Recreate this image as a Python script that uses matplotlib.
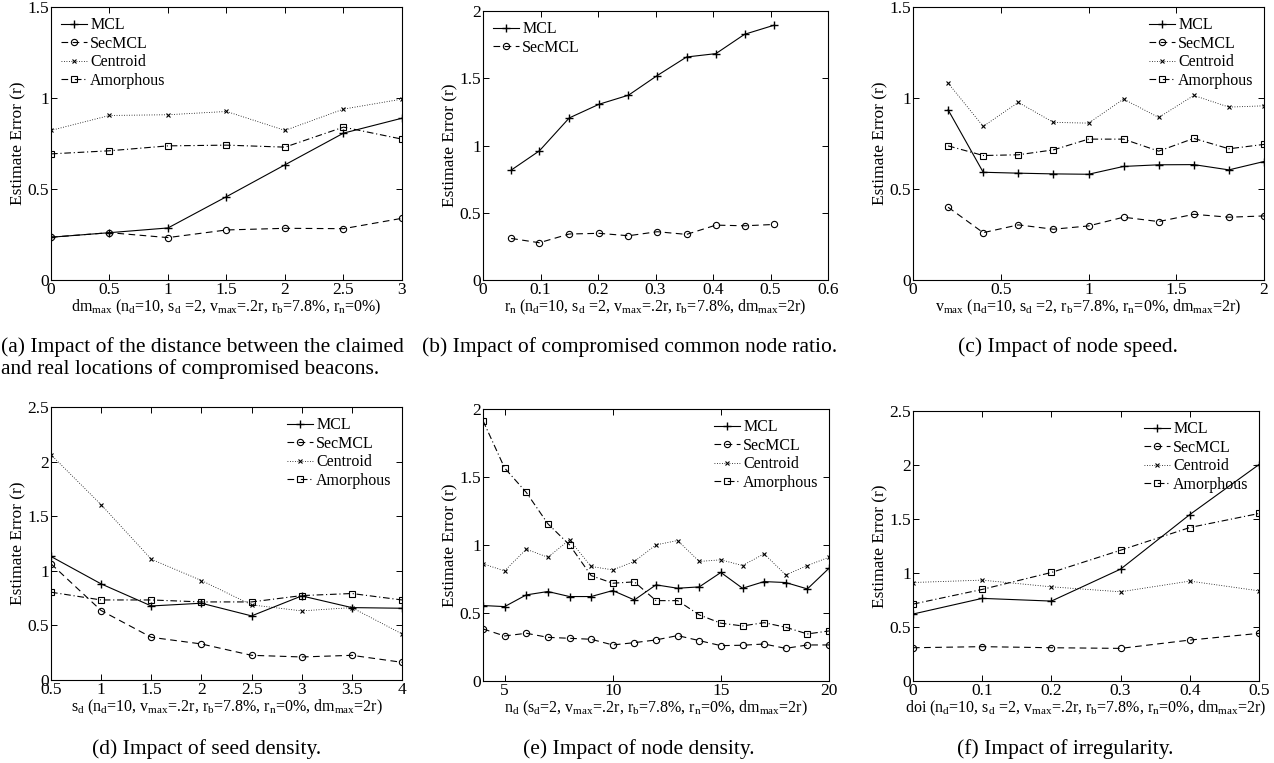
import numpy as np
import matplotlib
matplotlib.use('Agg')
import matplotlib.pyplot as plt
from matplotlib.ticker import FuncFormatter

plt.rcParams['font.family'] = ['Liberation Serif', 'DejaVu Serif']
plt.rcParams['mathtext.fontset'] = 'custom'
plt.rcParams['mathtext.rm'] = 'Liberation Serif'
plt.rcParams['mathtext.default'] = 'regular'

# (a) dm_max
dm_x = [0, 0.5, 1, 1.5, 2, 2.5, 3]
dm_mcl = [0.235, 0.26, 0.286, 0.458, 0.633, 0.807, 0.889]
dm_sec = [0.235, 0.26, 0.233, 0.275, 0.284, 0.282, 0.339]
dm_cen = [0.822, 0.904, 0.908, 0.926, 0.822, 0.939, 0.994]
dm_amo = [0.693, 0.71, 0.737, 0.741, 0.73, 0.84, 0.774]

# (b) r_n
rn_x = [0.049, 0.098, 0.150, 0.202, 0.253, 0.303, 0.354, 0.405, 0.455, 0.506]
rn_mcl = [0.817, 0.960, 1.205, 1.307, 1.374, 1.520, 1.658, 1.683, 1.827, 1.894]
rn_sec = [0.309, 0.277, 0.342, 0.347, 0.329, 0.359, 0.339, 0.408, 0.403, 0.413]

# (c) v_max
v_x = [0.2, 0.4, 0.6, 0.8, 1.0, 1.2, 1.4, 1.6, 1.8, 2.0]
v_mcl = [0.935, 0.592, 0.587, 0.583, 0.581, 0.624, 0.633, 0.634, 0.605, 0.651]
v_sec = [0.400, 0.260, 0.303, 0.279, 0.297, 0.345, 0.321, 0.361, 0.345, 0.352]
v_cen = [1.082, 0.844, 0.976, 0.866, 0.862, 0.994, 0.893, 1.014, 0.950, 0.957]
v_amo = [0.737, 0.684, 0.688, 0.715, 0.774, 0.774, 0.708, 0.778, 0.721, 0.745]

# (d) s_d
sd_x = [0.5, 1, 1.5, 2, 2.5, 3, 3.5, 4]
sd_mcl = [1.131, 0.880, 0.678, 0.703, 0.587, 0.770, 0.663, 0.657]
sd_sec = [1.064, 0.636, 0.391, 0.330, 0.226, 0.211, 0.226, 0.162]
sd_cen = [2.063, 1.605, 1.106, 0.911, 0.688, 0.633, 0.663, 0.422]
sd_amo = [0.804, 0.733, 0.733, 0.715, 0.715, 0.773, 0.792, 0.733]

# (e) n_d
nd_x = [4, 5, 6, 7, 8, 9, 10, 11, 12, 13, 14, 15, 16, 17, 18, 19, 20]
nd_mcl = [0.555, 0.547, 0.633, 0.658, 0.621, 0.621, 0.665, 0.596, 0.707, 0.682,
          0.692, 0.798, 0.682, 0.731, 0.724, 0.677, 0.829]
nd_sec = [0.383, 0.331, 0.351, 0.321, 0.314, 0.307, 0.265, 0.282, 0.302, 0.334,
          0.297, 0.260, 0.263, 0.272, 0.240, 0.265, 0.265]
nd_cen = [0.861, 0.810, 0.969, 0.910, 1.038, 0.842, 0.817, 0.879, 1.001, 1.033,
          0.879, 0.891, 0.849, 0.935, 0.780, 0.849, 0.910]
nd_amo = [1.914, 1.566, 1.387, 1.156, 1.001, 0.775, 0.719, 0.729, 0.591, 0.591,
          0.486, 0.425, 0.405, 0.429, 0.395, 0.346, 0.368]

# (f) doi
doi_x = [0, 0.1, 0.2, 0.3, 0.4, 0.5]
doi_mcl = [0.620, 0.765, 0.740, 1.036, 1.541, 2.004]
doi_sec = [0.308, 0.318, 0.308, 0.302, 0.379, 0.441]
doi_cen = [0.912, 0.934, 0.872, 0.826, 0.925, 0.835]
doi_amo = [0.712, 0.848, 1.005, 1.211, 1.421, 1.551]

W, H = 1274, 763
fig = plt.figure(figsize=(W / 100, H / 100), dpi=100)

def add_ax(x0, y0, x1, y1):
    # pixel box (top-left origin) -> figure fraction
    return fig.add_axes([x0 / W, 1 - y1 / H, (x1 - x0) / W, (y1 - y0) / H])

lw = 0.8
styles = {
    'MCL': dict(color='black', linestyle='-', marker='+', markersize=6, linewidth=lw),
    'SecMCL': dict(color='black', linestyle=(0, (6, 4)), marker='o', markersize=4.5,
                   markerfacecolor='none', markeredgewidth=0.8, linewidth=lw),
    'Centroid': dict(color='black', linestyle=(0, (1, 2)), marker='x', markersize=3.5,
                     linewidth=0.6, markeredgewidth=0.8),
    'Amorphous': dict(color='black', linestyle=(0, (6, 2.5, 1, 2.5)), marker='s', markersize=4,
                      markerfacecolor='none', markeredgewidth=0.8, linewidth=lw),
}

fmt = FuncFormatter(lambda v, p: '%g' % round(v, 6))

def panel(ax, x, series, xlim, ylim, xticks, yticks, xlabel, legloc):
    for name, y in series:
        ax.plot(x, y, label=name, **styles[name])
    ax.set_xlim(*xlim)
    ax.set_ylim(*ylim)
    ax.set_xticks(xticks)
    ax.set_yticks(yticks)
    ax.xaxis.set_major_formatter(fmt)
    ax.yaxis.set_major_formatter(fmt)
    ax.tick_params(direction='in', top=True, right=True, length=4, width=0.7,
                   labelsize=12.5, pad=1.5)
    for s in ax.spines.values():
        s.set_linewidth(0.8)
    ax.set_ylabel('Estimate Error (r)', fontsize=12.5, labelpad=1)
    ax.set_xlabel(xlabel, fontsize=11.5, labelpad=0)
    ax.legend(loc=legloc, frameon=False, fontsize=11.5, handlelength=1.6,
              handletextpad=0.2, labelspacing=0.15, borderaxespad=0.25)

ax = add_ax(51, 7, 402, 280)
panel(ax, dm_x, [('MCL', dm_mcl), ('SecMCL', dm_sec), ('Centroid', dm_cen), ('Amorphous', dm_amo)],
      (0, 3), (0, 1.5), np.arange(0, 3.01, 0.5), [0, 0.5, 1, 1.5],
      r'$dm_{max}$ ($n_d$=10, $s_d$ =2, $v_{max}$=.2r, $r_b$=7.8%, $r_n$=0%)', 'upper left')

ax = add_ax(483, 11, 828, 280)
panel(ax, rn_x, [('MCL', rn_mcl), ('SecMCL', rn_sec)],
      (0, 0.6), (0, 2), np.arange(0, 0.61, 0.1), [0, 0.5, 1, 1.5, 2],
      r'$r_n$ ($n_d$=10, $s_d$ =2, $v_{max}$=.2r, $r_b$=7.8%, $dm_{max}$=2r)', 'upper left')

ax = add_ax(913, 7, 1264, 280)
panel(ax, v_x, [('MCL', v_mcl), ('SecMCL', v_sec), ('Centroid', v_cen), ('Amorphous', v_amo)],
      (0, 2), (0, 1.5), [0, 0.5, 1, 1.5, 2], [0, 0.5, 1, 1.5],
      r'$v_{max}$ ($n_d$=10, $s_d$ =2, $r_b$=7.8%, $r_n$=0%, $dm_{max}$=2r)', 'upper right')

ax = add_ax(51, 407, 402, 680)
panel(ax, sd_x, [('MCL', sd_mcl), ('SecMCL', sd_sec), ('Centroid', sd_cen), ('Amorphous', sd_amo)],
      (0.5, 4), (0, 2.5), np.arange(0.5, 4.01, 0.5), np.arange(0, 2.51, 0.5),
      r'$s_d$ ($n_d$=10, $v_{max}$=.2r, $r_b$=7.8%, $r_n$=0%, $dm_{max}$=2r)', 'upper right')

ax = add_ax(483, 409, 829, 681)
panel(ax, nd_x, [('MCL', nd_mcl), ('SecMCL', nd_sec), ('Centroid', nd_cen), ('Amorphous', nd_amo)],
      (4, 20), (0, 2), [5, 10, 15, 20], [0, 0.5, 1, 1.5, 2],
      r'$n_d$ ($s_d$=2, $v_{max}$=.2r, $r_b$=7.8%, $r_n$=0%, $dm_{max}$=2r)', 'upper right')

ax = add_ax(913, 411, 1259, 681)
panel(ax, doi_x, [('MCL', doi_mcl), ('SecMCL', doi_sec), ('Centroid', doi_cen), ('Amorphous', doi_amo)],
      (0, 0.5), (0, 2.5), np.arange(0, 0.51, 0.1), np.arange(0, 2.51, 0.5),
      r'doi ($n_d$=10, $s_d$ =2, $v_{max}$=.2r, $r_b$=7.8%, $r_n$=0%, $dm_{max}$=2r)', 'upper right')

# captions
cap = dict(fontsize=15.5, va='center')
fig.text(1 / W, 1 - 347 / H, '(a) Impact of the distance between the claimed', ha='left', **cap)
fig.text(1 / W, 1 - 369 / H, 'and real locations of compromised beacons.', ha='left', **cap)
fig.text(422 / W, 1 - 347 / H, '(b) Impact of compromised common node ratio.', ha='left', **cap)
fig.text(1068 / W, 1 - 347 / H, '(c) Impact of node speed.', ha='center', **cap)
fig.text(207 / W, 1 - 749 / H, '(d) Impact of seed density.', ha='center', **cap)
fig.text(639 / W, 1 - 749 / H, '(e) Impact of node density.', ha='center', **cap)
fig.text(1065 / W, 1 - 749 / H, '(f) Impact of irregularity.', ha='center', **cap)

plt.savefig('out.png', dpi=100)
